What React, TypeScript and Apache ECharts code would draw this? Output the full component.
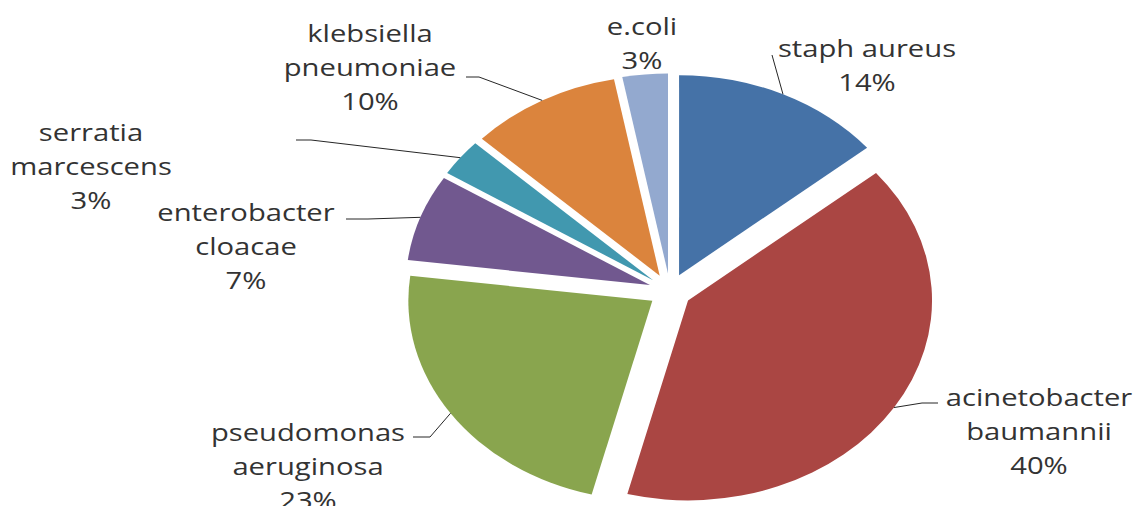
import React, { useEffect, useRef } from 'react';
import * as echarts from 'echarts';

// ---- data ----
const categories = [
  'staph aureus',
  'acinetobacter\nbaumannii',
  'pseudomonas\naeruginosa',
  'enterobacter\ncloacae',
  'serratia\nmarcescens',
  'klebsiella\npneumoniae',
  'e.coli',
];
const values = [14, 40, 23, 7, 3, 10, 3];
const colors = ['#4572A7', '#AA4643', '#89A54E', '#71588F', '#4198AF', '#DB843D', '#93A9CF'];

// ---- label placement (annotation layout) ----
const labelPlacement: { x: number; y: number; leader: number[][] }[] = [
  { x: 867, y: 48, leader: [[772, 55]] },
  { x: 1039, y: 397, leader: [[938, 403], [922, 403]] },
  { x: 308, y: 432, leader: [[413, 437], [430, 437]] },
  { x: 246, y: 212, leader: [[346, 219], [368, 219]] },
  { x: 91, y: 132, leader: [[296, 140], [311, 140]] },
  { x: 370, y: 33, leader: [[466, 77], [479, 77]] },
  { x: 642, y: 26, leader: [] },
];

const CX = 670;
const CY = 291;
const R = 200;
const EXPLODE = 17.5;
const STRETCH = 1.22;
const TEXT_STRETCH = 1.27;
const LINE_H = 34;

export default function App() {
  const ref = useRef<HTMLDivElement>(null);
  useEffect(() => {
    if (!ref.current) return;
    const chart = echarts.init(ref.current, null, { renderer: 'svg' });
    const total = values.reduce((a, b) => a + b, 0);
    const rad = (d: number) => (d * Math.PI) / 180;

    chart.setOption({
      animation: false,
      backgroundColor: '#ffffff',
      series: [
        {
          type: 'custom',
          coordinateSystem: 'none',
          silent: true,
          data: values.map((v, i) => ({ name: categories[i], value: v })),
          renderItem: (params: any, api: any) => {
            const i = params.dataIndex;
            const v = api.value(0);
            let before = 0;
            for (let k = 0; k < i; k++) before += values[k];
            const startDeg = (before / total) * 360;
            const endDeg = ((before + v) / total) * 360;
            const mid = rad((startDeg + endDeg) / 2);
            const children: any[] = [];
            children.push({
              type: 'sector',
              x: CX,
              y: CY,
              scaleX: STRETCH,
              shape: {
                cx: EXPLODE * Math.sin(mid),
                cy: -EXPLODE * Math.cos(mid),
                r: R,
                r0: 0,
                startAngle: rad(startDeg - 90),
                endAngle: rad(endDeg - 90),
                clockwise: true,
              },
              style: { fill: colors[i], stroke: null },
            });
            const lay = labelPlacement[i];
            if (lay.leader.length) {
              const arcPt = [
                CX + STRETCH * (R + EXPLODE) * Math.sin(mid),
                CY - (R + EXPLODE) * Math.cos(mid),
              ];
              children.push({
                type: 'polyline',
                shape: { points: [...lay.leader, arcPt] },
                style: { stroke: '#262626', lineWidth: 1, fill: null },
              });
            }
            const pct = Math.round((v / total) * 100) + '%';
            children.push({
              type: 'text',
              x: lay.x,
              y: lay.y - LINE_H / 2,
              scaleX: TEXT_STRETCH,
              style: {
                text: categories[i] + '\n' + pct,
                font: '23px "Open Sans"',
                fill: '#333333',
                align: 'center',
                verticalAlign: 'top',
                lineHeight: LINE_H,
              },
            });
            return { type: 'group', children };
          },
        },
      ],
    });
    return () => chart.dispose();
  }, []);

  return (
    <div
      ref={ref}
      style={{ position: 'fixed', left: 0, top: 0, width: 1137, height: 506 }}
    />
  );
}
